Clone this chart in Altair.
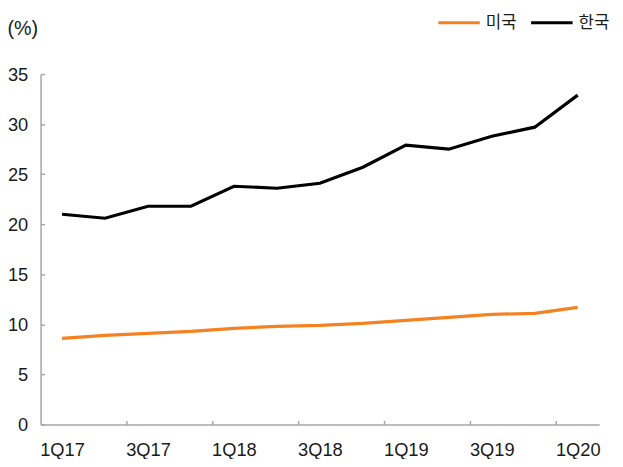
import json
import altair as alt
import pandas as pd

quarters = ["1Q17", "2Q17", "3Q17", "4Q17", "1Q18", "2Q18", "3Q18", "4Q18",
            "1Q19", "2Q19", "3Q19", "4Q19", "1Q20"]
us = [8.6, 8.9, 9.1, 9.3, 9.6, 9.8, 9.9, 10.1, 10.4, 10.7, 11.0, 11.1, 11.7]
kr = [21.0, 20.6, 21.8, 21.8, 23.8, 23.6, 24.1, 25.7, 27.9, 27.5, 28.8, 29.7, 32.9]
series = ["미국", "한국"]
colors = ["#F58220", "#000000"]
y_ticks = [0, 5, 10, 15, 20, 25, 30, 35]

rows = []
for i, q in enumerate(quarters):
    rows.append({"idx": i, "quarter": q, "series": series[0], "value": us[i]})
    rows.append({"idx": i, "quarter": q, "series": series[1], "value": kr[i]})
df = pd.DataFrame(rows)

label_idx = list(range(0, len(quarters), 2))
tick_idx = [i - 0.5 for i in label_idx[1:]]
x_values = sorted(label_idx + tick_idx)
label_expr = ("datum.value % 1 == 0 ? " + json.dumps(quarters, ensure_ascii=False)
              + "[datum.value] : ''")

num_font = "Liberation Sans"
axis_gray = "#A6A6A6"
text_color = "#1A1A1A"

chart = alt.Chart(df).mark_line(strokeWidth=3.2).encode(
    x=alt.X(
        "idx:Q",
        scale=alt.Scale(domain=[-0.5, len(quarters) - 0.5], nice=False, zero=False),
        axis=alt.Axis(
            values=x_values,
            labelExpr=label_expr,
            tickOpacity={"condition": {"test": "datum.value % 1 != 0", "value": 1}, "value": 0},
            tickSize={"expr": "-4"},
            labelPadding=20,
            labelFlush=False,
            labelOverlap=False,
            title=None,
            grid=False,
            labelFont=num_font,
            labelFontSize=18.5,
            labelColor=text_color,
        ),
    ),
    y=alt.Y(
        "value:Q",
        scale=alt.Scale(domain=[0, 35], nice=False),
        axis=alt.Axis(
            values=y_ticks,
            tickSize={"expr": "-4"},
            labelPadding=17,
            grid=False,
            labelFont=num_font,
            labelFontSize=18.5,
            labelColor=text_color,
            title="(%)",
            titleAngle=0,
            titleX=-34,
            titleY=-46,
            titleAlign="left",
            titleBaseline="middle",
            titleFont=num_font,
            titleFontSize=20,
            titleFontWeight="normal",
            titleColor=text_color,
        ),
    ),
    color=alt.Color(
        "series:N",
        scale=alt.Scale(domain=series, range=colors),
        legend=alt.Legend(
            title=None,
            orient="none",
            legendX=401,
            legendY=-75,
            direction="horizontal",
            symbolType="stroke",
            symbolSize=1764,
            symbolStrokeWidth=3.2,
            labelFont="Noto Sans CJK KR",
            labelFontSize=17,
            labelColor=text_color,
            labelOffset=4,
            columnPadding=7,
            padding=0,
        ),
    ),
).properties(
    width=566,
    height=355,
    autosize=alt.AutoSizeParams(type="none"),
    padding={"left": 33, "top": 64, "right": 16, "bottom": 32},
).configure_view(
    stroke=None
).configure_axis(
    domainColor=axis_gray,
    tickColor=axis_gray,
    domainWidth=1.5,
    tickWidth=1.5,
)

chart.save("out.html", embed_options={"renderer": "svg", "actions": False})
